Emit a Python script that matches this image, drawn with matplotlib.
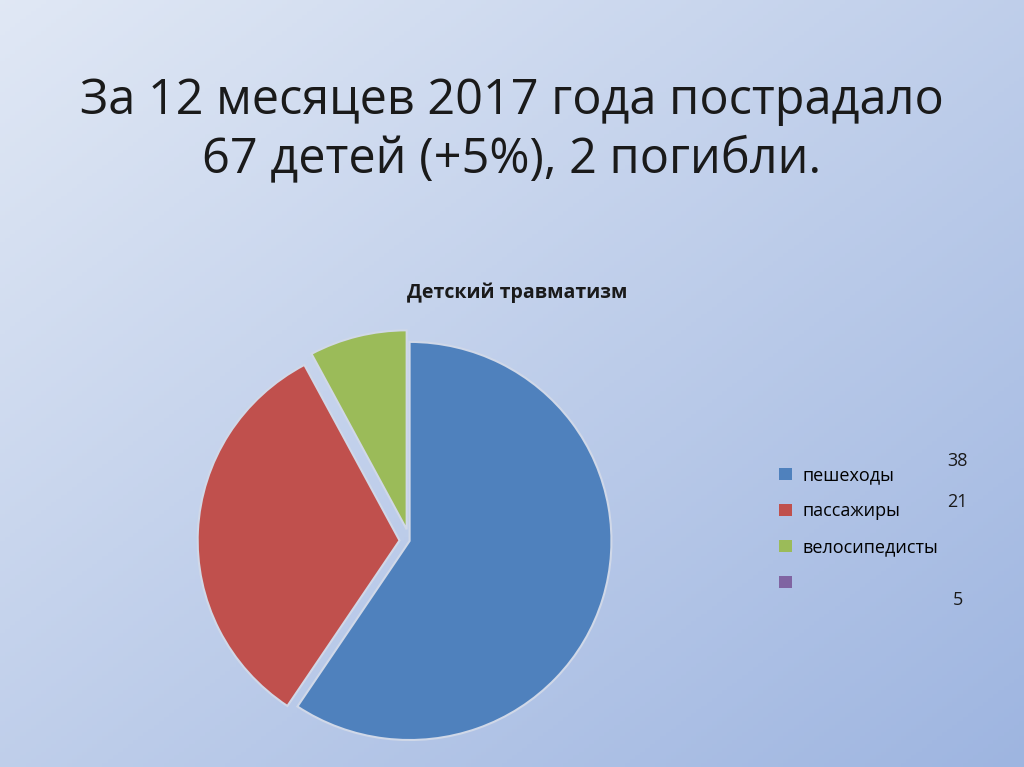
import numpy as np
import matplotlib.pyplot as plt
from matplotlib.patches import Patch

labels = ['пешеходы', 'пассажиры', 'велосипедисты', '']
values = [38, 21, 5]
value_labels = ['38', '21', '5']
colors = ['#4f81bd', '#c0504d', '#9bbb59', '#8064a2']

plt.rcParams['font.family'] = ['Open Sans', 'DejaVu Sans']

fig = plt.figure(figsize=(10.24, 7.67), dpi=100)

# фон-градиент
bg = fig.add_axes([0, 0, 1, 1])
xx, yy = np.meshgrid(np.linspace(0, 1, 200), np.linspace(0, 1, 200))
t = (xx + yy) / 2
c0 = np.array([0.88, 0.91, 0.96])
c1 = np.array([0.62, 0.71, 0.88])
img = c0[None, None, :] * (1 - t[..., None]) + c1[None, None, :] * t[..., None]
bg.imshow(img, aspect='auto', extent=[0, 1, 0, 1])
bg.axis('off')

fig.text(0.5, 0.83, 'За 12 месяцев 2017 года пострадало\n67 детей (+5%), 2 погибли.',
         ha='center', va='center', fontsize=35, linespacing=1.25, color='#1a1a1a')
fig.text(0.505, 0.618, 'Детский травматизм', ha='center', va='center',
         fontsize=14, fontweight='bold', color='#1a1a1a')

ax = fig.add_axes([0.195, 0.03, 0.41, 0.545])
ax.pie(values, colors=colors[:3], startangle=90, counterclock=False,
       explode=[0.0, 0.05, 0.06], radius=1.0,
       wedgeprops=dict(edgecolor='#d0d8e8', linewidth=1.5))
ax.set_xlim(-1.04, 1.04)
ax.set_ylim(-1.02, 1.08)
ax.set_aspect('auto')

handles = [Patch(facecolor=c, edgecolor='none') for c in colors]
fig.legend(handles, labels, loc='center left', bbox_to_anchor=(0.745, 0.31),
           frameon=False, fontsize=13, handlelength=0.7, handleheight=0.7,
           labelspacing=1.0, handletextpad=0.6)
for txt, y in zip(value_labels, [0.399, 0.345, 0.218]):
    fig.text(0.935, y, txt, ha='center', va='center', fontsize=13, color='#1a1a1a')

fig.savefig('out.png', dpi=100)
